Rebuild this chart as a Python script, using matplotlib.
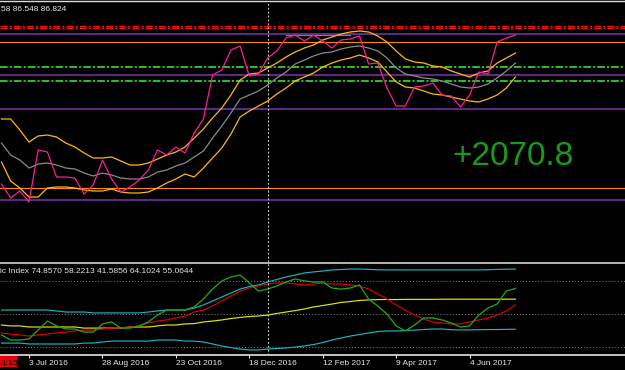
import matplotlib
matplotlib.use('Agg')
import matplotlib.pyplot as plt
import matplotlib.dates as mdates
from matplotlib.lines import Line2D
from matplotlib.patches import Rectangle
import pandas as pd

plt.rcParams['font.family'] = ['Liberation Sans', 'DejaVu Sans']
plt.rcParams['lines.scale_dashes'] = False

# ---------------- data ----------------
weeks = pd.date_range('2016-06-12', periods=57, freq='7D')

# main window (values in chart units)
price_line = [78, 64, 71, 60, 112, 110, 85, 85, 84, 68, 77, 102, 83, 70, 75, 82, 92, 112, 107, 115,
              109, 129, 143, 187, 192, 212, 216, 186, 188, 204, 211, 224, 227, 221, 227, 221, 214, 222,
              223, 226, 198, 199, 174, 156, 156, 175, 176, 179, 167, 166, 155, 167, 190, 188, 220, 224, 227]
band_upper = [143, 143, 132, 120, 126, 127, 125, 119, 115, 109, 104, 104, 105, 101, 97, 97, 99, 103, 107,
              110, 115, 124, 133, 144, 154, 167, 182, 188, 189, 194, 199, 205, 210, 214, 217, 222, 225,
              228, 230, 231, 230, 226, 220, 211, 203, 200, 199, 196, 195, 191, 188, 185, 189, 191, 199, 204, 209]
band_mid = [119, 107, 102, 94, 98, 99, 97, 94, 93, 89, 86, 89, 87, 84, 83, 83, 85, 90, 92, 96, 99, 105,
            111, 124, 136, 149, 163, 167, 171, 177, 184, 190, 198, 202, 206, 209, 210, 213, 215, 216,
            214, 211, 204, 194, 188, 186, 184, 183, 181, 178, 175, 174, 175, 178, 184, 191, 199]
band_lower = [100, 81, 74, 65, 65, 74, 75, 75, 74, 72, 71, 71, 73, 70, 69, 69, 70, 74, 79, 83, 88, 85,
              94, 104, 114, 128, 145, 151, 156, 161, 168, 174, 181, 185, 189, 195, 199, 202, 204, 207,
              204, 200, 190, 180, 175, 174, 171, 168, 167, 165, 163, 161, 160, 163, 167, 174, 185]

levels_red = [236, 234]
levels_purple = [228, 187, 153, 62]
levels_orange = [220, 74]
levels_green = [195, 181]
green_segment = (['2017-01-15', '2017-03-05'], 227.5)

# Traders Dynamic Index window
tdi_upper = [52.2, 52.2, 52.2, 52.2, 52.2, 52.2, 51.7, 51.1, 51.1, 51.1, 50.6, 50.6, 50.6, 50.6, 50.6,
             50.6, 51.1, 51.7, 52.2, 52.2, 52.2, 53.3, 55.0, 57.2, 59.4, 61.6, 63.8, 65.2, 66.1, 67.7,
             69.1, 70.5, 71.6, 72.7, 73.3, 73.8, 74.4, 74.6, 74.9, 74.9, 74.7, 74.5, 74.4, 74.4, 74.4,
             74.4, 74.4, 74.4, 74.4, 74.4, 74.4, 74.4, 74.4, 74.5, 74.7, 74.8, 74.86]
tdi_lower = [33.9, 33.9, 33.9, 33.4, 33.4, 33.4, 33.4, 33.4, 33.4, 33.9, 33.9, 34.5, 35.0, 35.0, 35.0,
             35.0, 35.0, 35.6, 35.6, 35.6, 35.0, 35.0, 34.5, 33.4, 32.3, 31.4, 30.6, 30.1, 30.1, 30.6,
             30.9, 31.2, 31.7, 32.3, 33.1, 34.2, 35.6, 36.7, 37.8, 38.6, 39.5, 40.3, 40.6, 40.6, 40.9,
             41.1, 41.4, 41.7, 41.7, 41.3, 41.2, 41.2, 41.3, 41.4, 41.4, 41.5, 41.59]
tdi_base = [43.9, 43.4, 43.4, 42.8, 42.8, 42.8, 42.8, 42.8, 42.8, 42.2, 42.2, 42.2, 42.2, 42.2, 42.8,
            42.8, 42.8, 43.4, 43.9, 43.9, 44.5, 44.7, 45.6, 46.1, 46.7, 47.5, 48.1, 48.6, 48.9, 49.4,
            50.3, 51.1, 51.9, 52.8, 53.9, 54.7, 55.5, 56.4, 56.9, 57.5, 57.8, 58.0, 58.0, 58.0, 58.1,
            58.1, 58.1, 58.1, 58.2, 58.2, 58.2, 58.2, 58.2, 58.2, 58.2, 58.2, 58.22]
tdi_signal = [39.5, 38.9, 38.4, 37.8, 38.4, 38.9, 39.5, 40.0, 40.6, 41.1, 41.1, 41.7, 42.2, 42.2, 42.8,
              43.4, 45.0, 46.1, 46.7, 47.8, 48.9, 51.1, 52.2, 54.4, 57.2, 60.0, 62.7, 64.4, 65.5, 66.6,
              67.2, 67.2, 66.6, 66.1, 66.6, 67.2, 66.6, 66.6, 66.1, 65.5, 63.8, 61.1, 58.3, 55.0, 52.2,
              49.4, 47.2, 45.6, 45.0, 44.5, 44.5, 45.6, 46.7, 47.8, 49.4, 51.7, 55.06]
tdi_rsi = [38.4, 35.6, 35.6, 36.2, 41.1, 46.1, 43.4, 41.7, 41.7, 40.0, 40.0, 44.5, 45.6, 42.2, 42.2,
           43.4, 45.6, 49.4, 52.2, 52.2, 52.2, 53.9, 58.3, 63.8, 68.3, 70.5, 71.6, 67.2, 62.7, 63.8,
           65.5, 67.7, 69.4, 68.3, 67.7, 67.7, 64.4, 63.8, 64.4, 66.1, 58.3, 54.4, 50.0, 43.4, 40.6,
           43.9, 47.8, 47.8, 46.7, 45.0, 42.8, 43.4, 49.4, 53.3, 55.5, 62.7, 64.10]
tdi_levels = [68, 50, 32]

tick_labels = ['3 Jul 2016', '28 Aug 2016', '23 Oct 2016', '18 Dec 2016',
               '12 Feb 2017', '9 Apr 2017', '4 Jun 2017']
crosshair_date = '2017-01-01'
profit_text = '+2070.8'
main_header = '58 86.548 86.824'
sub_header = 'ic Index 74.8570 58.2213 41.5856 64.1024 55.0644'
time_label = '1:15'

# ---------------- layout helpers ----------------
W, H = 625, 370
def fy(y):
    return 1 - y / H

fig = plt.figure(figsize=(W / 100, H / 100), dpi=100, facecolor='black')

base = mdates.date2num(pd.Timestamp('2016-07-03'))
xlim = (base - 22.11, base + 454.5)
xd = mdates.date2num(weeks)

ax1 = fig.add_axes([0, fy(262), 1, (262 - 1) / H], facecolor='black')
ax2 = fig.add_axes([0, fy(355), 1, (355 - 263.5) / H], facecolor='black')

for ax in (ax1, ax2):
    ax.set_xlim(*xlim)
    ax.set_yticks([])
    for s in ax.spines.values():
        s.set_visible(False)

ax1.set_ylim(0, 261)
ax2.set_ylim(27.30, 77.96)

# main window horizontal levels
for v in levels_purple:
    ax1.axhline(v, color='#5a2a80', lw=1.5, zorder=1)
for v in levels_orange:
    ax1.axhline(v, color='#ff8c00', lw=0.8, zorder=1)
for v in levels_red:
    ax1.axhline(v, color='#ff1010', lw=1.0, dashes=(5, 1.5, 1.5, 1.5), zorder=1)
for v in levels_green:
    ax1.axhline(v, color='#32cd32', lw=1.3, dashes=(5.5, 1.5, 1.5, 1.5), zorder=1)
ax1.plot(mdates.date2num(pd.to_datetime(green_segment[0])), [green_segment[1]] * 2,
         color='#3cb43c', lw=0.8, zorder=2)

ax1.plot(xd, band_upper, color='#ffb80a', lw=0.9, zorder=3)
ax1.plot(xd, band_lower, color='#ffb80a', lw=0.9, zorder=3)
ax1.plot(xd, band_mid, color='#8a8a8a', lw=0.9, zorder=3)
ax1.plot(xd, price_line, color='#ff1a9c', lw=0.9, zorder=4)

# TDI window
for v in tdi_levels:
    ax2.axhline(v, color='#7a7a7a', lw=0.7, dashes=(0.8, 1.4), zorder=1)
ax2.plot(xd, tdi_upper, color='#1ab4c2', lw=0.85, zorder=3)
ax2.plot(xd, tdi_lower, color='#1ab4c2', lw=0.85, zorder=3)
ax2.plot(xd, tdi_base, color='#e6e600', lw=0.85, zorder=3)
ax2.plot(xd, tdi_signal, color='#e00000', lw=0.85, zorder=4)
ax2.plot(xd, tdi_rsi, color='#1fa51f', lw=0.95, zorder=5)

# crosshair
cx = mdates.date2num(pd.Timestamp(crosshair_date))
for ax in (ax1, ax2):
    ax.axvline(cx, color='#c8c8c8', lw=0.8, dashes=(1.4, 1.4), zorder=6)

# spines / axis lines
ax1.spines['top'].set_visible(True)
ax1.spines['top'].set_color('#dcdcdc')
ax1.spines['top'].set_linewidth(1.0)
ax2.spines['bottom'].set_visible(True)
ax2.spines['bottom'].set_color('#e6e6e6')
ax2.spines['bottom'].set_linewidth(1.2)
fig.add_artist(Line2D([0, 1], [fy(262.8)] * 2, transform=fig.transFigure,
                      color='#b4b4b4', lw=1.4))

# x ticks
ax1.set_xticks([])
tick_pos = mdates.date2num(pd.to_datetime(tick_labels, format='%d %b %Y'))
ax2.set_xticks(tick_pos)
ax2.set_xticklabels(tick_labels)
ax2.tick_params(axis='x', colors='#e6e6e6', labelcolor='#e6e6e6', length=2.4,
                width=0.8, pad=1.0, labelsize=6, direction='out')
for lab in ax2.get_xticklabels():
    lab.set_ha('left')

# texts
fig.text(1 / W, fy(10.6), main_header, color='#e6e6e6', fontsize=6, va='baseline', ha='left')
fig.text(0 / W, fy(272.6), sub_header, color='#e6e6e6', fontsize=6, va='baseline', ha='left')
fig.text(452 / W, fy(165), profit_text, color='#1a9a1a', fontsize=24, va='baseline', ha='left')

fig.add_artist(Rectangle((0, fy(367)), 17 / W, 11 / H, transform=fig.transFigure,
                         facecolor='#e80000', edgecolor='none'))
fig.text(1 / W, fy(365), time_label, color='black', fontsize=6, va='baseline', ha='left')

fig.savefig('out.png', dpi=100, facecolor='black')
